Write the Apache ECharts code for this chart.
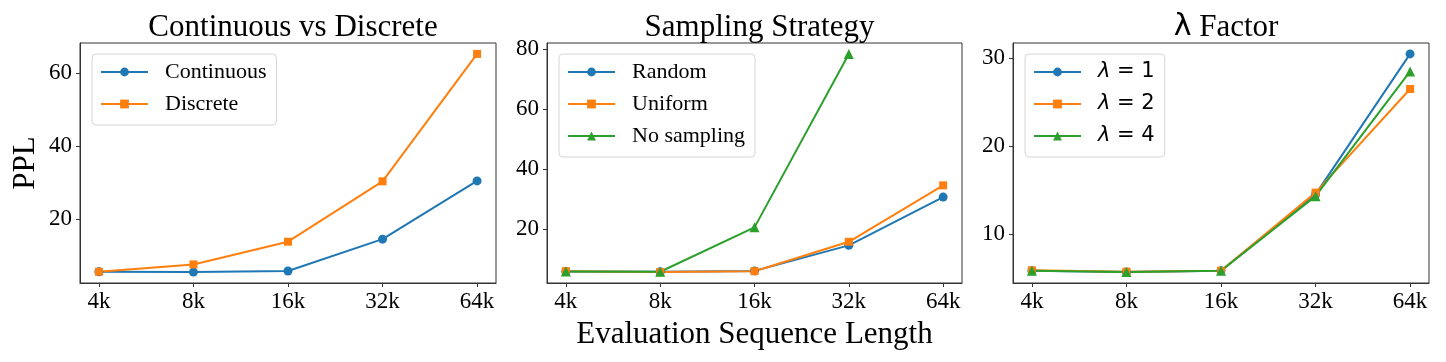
<!DOCTYPE html>
<html>
<head>
<meta charset="utf-8">
<script src="https://cdn.jsdelivr.net/npm/echarts@6/dist/echarts.min.js"></script>
<style>
html,body{margin:0;padding:0;background:#fff;}
#chart{width:1446px;height:362px;}
</style>
</head>
<body>
<div id="chart"></div>
<script>
// ---- data ----
const categories = ['4k', '8k', '16k', '32k', '64k'];

const continuous = [5.7, 5.6, 5.9, 14.6, 30.5];
const discrete   = [5.7, 7.7, 13.9, 30.4, 65.2];

const randomS    = [5.8, 5.7, 6.0, 14.5, 30.6];
const uniformS   = [5.9, 5.6, 5.9, 15.7, 34.5];
const noSampling = [5.8, 5.7, 20.5, 78.3, null];

const lambda1 = [5.8, 5.66, 5.8, 14.5, 30.5];
const lambda2 = [5.85, 5.7, 5.8, 14.7, 26.5];
const lambda4 = [5.8, 5.65, 5.8, 14.3, 28.5];

const yTicks1 = [20, 40, 60];
const yTicks2 = [20, 40, 60, 80];
const yTicks3 = [10, 20, 30];

const titles = ['Continuous vs Discrete', 'Sampling Strategy', '{l|λ} Factor'];

// ---- styling ----
const C = ['#1f77b4', '#ff7f0e', '#2ca02c'];
const SERIF = 'Liberation Serif';
const tickIdx = categories.map((_, i) => i);
const grids = [
  {left: 80, top: 43, width: 416, height: 240},
  {left: 547, top: 43, width: 415, height: 240},
  {left: 1013, top: 43, width: 416, height: 240}
];
const yRanges = [[2.62, 68.18], [1.96, 81.94], [4.41, 31.74]];
const yTickSets = [yTicks1, yTicks2, yTicks3];

function toXY(arr) {
  return arr.map((v, i) => v == null ? null : [i, v]).filter(d => d);
}

const xAxes = grids.map((g, i) => ({
  type: 'value', gridIndex: i, min: -0.2, max: 4.2,
  splitLine: {show: false},
  axisLine: {show: true, onZero: false, lineStyle: {color: '#333', width: 1}},
  axisTick: {show: true, customValues: tickIdx, length: 4, lineStyle: {color: '#333', width: 1}},
  axisLabel: {
    customValues: tickIdx, margin: 7,
    formatter: v => categories[Math.round(v)] || '',
    fontFamily: SERIF, fontSize: 23, color: '#000'
  },
  name: i === 1 ? 'Evaluation Sequence Length' : '',
  nameLocation: 'middle', nameGap: 36,
  nameTextStyle: {fontFamily: SERIF, fontSize: 31, color: '#000'}
}));

const yAxes = grids.map((g, i) => ({
  type: 'value', gridIndex: i, min: yRanges[i][0], max: yRanges[i][1],
  splitLine: {show: false},
  axisLine: {show: true, onZero: false, lineStyle: {color: '#333', width: 1}},
  axisTick: {show: true, customValues: yTickSets[i], length: 4, lineStyle: {color: '#333', width: 1}},
  axisLabel: {
    customValues: yTickSets[i], margin: 8,
    fontFamily: SERIF, fontSize: 23, color: '#000'
  },
  name: i === 0 ? 'PPL' : '',
  nameLocation: 'middle', nameGap: 39, nameRotate: 90,
  nameTextStyle: {fontFamily: SERIF, fontSize: 31, color: '#000'}
}));

function mkSeries(name, arr, gi, ci, symbol) {
  return {
    name: name, type: 'line', xAxisIndex: gi, yAxisIndex: gi,
    data: toXY(arr), symbol: symbol, symbolSize: symbol === 'triangle' ? 10 : (symbol === 'rect' ? 8 : 9),
    showSymbol: true,
    lineStyle: {color: C[ci], width: 2},
    itemStyle: {color: C[ci]},
    emphasis: {disabled: true},
    animation: false
  };
}

const series = [
  mkSeries('Continuous', continuous, 0, 0, 'circle'),
  mkSeries('Discrete', discrete, 0, 1, 'rect'),
  mkSeries('Random', randomS, 1, 0, 'circle'),
  mkSeries('Uniform', uniformS, 1, 1, 'rect'),
  mkSeries('No sampling', noSampling, 1, 2, 'triangle'),
  mkSeries('λ = 1', lambda1, 2, 0, 'circle'),
  mkSeries('λ = 2', lambda2, 2, 1, 'rect'),
  mkSeries('λ = 4', lambda4, 2, 2, 'triangle')
];

function mkLegend(names, left, rich) {
  const l = {
    orient: 'vertical', left: left, top: 54,
    data: names,
    itemWidth: 47, itemHeight: 11, itemGap: 10,
    padding: [7, 10, 10, 8],
    borderColor: '#d6d6d6', borderWidth: 1, borderRadius: 4,
    backgroundColor: 'rgba(255,255,255,0.8)',
    selectedMode: false,
    textStyle: {fontFamily: SERIF, fontSize: 22, color: '#000', lineHeight: 22, padding: [0, 0, 0, 12]}
  };
  if (rich) {
    l.formatter = n => '{l|λ}{n|' + n.slice(1) + '}';
    l.textStyle.rich = {
      l: {fontFamily: 'DejaVu Sans', fontStyle: 'italic', fontSize: 21, color: '#000', lineHeight: 22},
      n: {fontFamily: 'DejaVu Sans', fontSize: 21, color: '#000', lineHeight: 22}
    };
  }
  return l;
}

const titleCenters = grids.map(g => g.left + g.width / 2);
const titleOpts = titles.map((t, i) => ({
  text: t, left: titleCenters[i], top: 7, textAlign: 'center',
  textStyle: {
    fontFamily: SERIF, fontSize: 31, fontWeight: 'normal', color: '#000',
    rich: {l: {fontFamily: 'DejaVu Sans', fontSize: 30, color: '#000'}}
  }
}));

const option = {
  animation: false,
  backgroundColor: '#fff',
  title: titleOpts,
  grid: grids.map(g => Object.assign({show: true, borderColor: '#333', borderWidth: 1, backgroundColor: 'transparent'}, g)),
  xAxis: xAxes,
  yAxis: yAxes,
  legend: [
    mkLegend(['Continuous', 'Discrete'], 92, false),
    mkLegend(['Random', 'Uniform', 'No sampling'], 559, false),
    mkLegend(['λ = 1', 'λ = 2', 'λ = 4'], 1025, true)
  ],
  series: series
};

const chart = echarts.init(document.getElementById('chart'), null, {renderer: 'canvas'});
chart.setOption(option);
</script>
</body>
</html>
